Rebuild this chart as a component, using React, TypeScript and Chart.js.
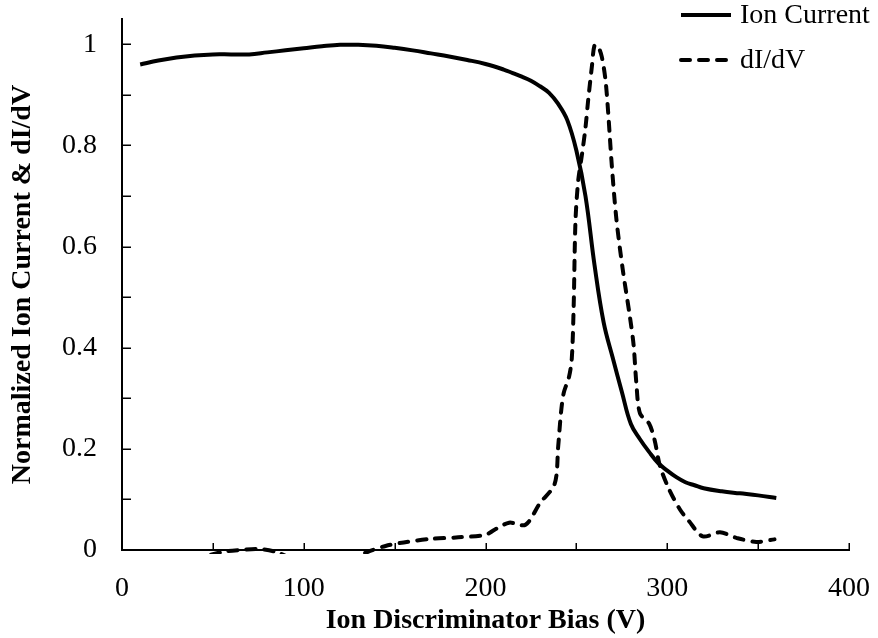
import React, { useEffect, useRef } from 'react';
import { Chart, registerables } from 'chart.js';

Chart.register(...registerables);

// ---- data ----
const ionBias = [10, 20, 30, 40, 50, 60, 70, 80, 90, 100, 110, 120, 130, 140, 150, 160, 170, 180, 190, 200, 210, 215, 220, 225, 230, 235, 240, 245, 250, 255, 260, 265, 270, 275, 280, 285, 290, 295, 300, 305, 310, 315, 320, 330, 340, 350, 360];
const ionCurrent = [0.960, 0.968, 0.974, 0.978, 0.980, 0.980, 0.980, 0.984, 0.988, 0.992, 0.996, 0.999, 0.999, 0.997, 0.993, 0.988, 0.982, 0.976, 0.969, 0.961, 0.950, 0.943, 0.936, 0.928, 0.917, 0.904, 0.882, 0.850, 0.790, 0.700, 0.563, 0.450, 0.380, 0.313, 0.249, 0.219, 0.194, 0.172, 0.157, 0.144, 0.134, 0.128, 0.122, 0.116, 0.112, 0.108, 0.103];

const didvBias = [10, 25, 40, 55, 65, 75, 85, 95, 110, 125, 135, 145, 155, 170, 185, 200, 205, 213, 222, 230, 238, 240, 241.5, 243, 246, 247.5, 248.5, 249.5, 251, 253, 255, 256.5, 258.5, 260, 262, 264, 266, 267.5, 269.5, 272, 275.5, 279.5, 281.5, 283, 285, 290, 293, 296, 301, 307, 312, 319.5, 329, 338, 349, 359];
const didv = [-0.03, -0.03, -0.018, -0.004, 0.0, 0.002, -0.004, -0.02, -0.04, -0.02, -0.004, 0.008, 0.015, 0.022, 0.025, 0.030, 0.040, 0.054, 0.050, 0.093, 0.130, 0.205, 0.270, 0.310, 0.343, 0.380, 0.480, 0.650, 0.730, 0.780, 0.835, 0.890, 0.955, 0.998, 0.995, 0.975, 0.930, 0.865, 0.760, 0.655, 0.555, 0.460, 0.405, 0.330, 0.270, 0.250, 0.218, 0.166, 0.120, 0.080, 0.057, 0.027, 0.035, 0.024, 0.016, 0.021];

const seriesLabels = ['Ion Current', 'dI/dV'];
const xTickValues = [0, 50, 100, 150, 200, 250, 300, 350, 400];
const xTickLabels = ['0', '', '100', '', '200', '', '300', '', '400'];
const yTickValues = [0, 0.1, 0.2, 0.3, 0.4, 0.5, 0.6, 0.7, 0.8, 0.9, 1.0];
const yTickLabels = ['0', '', '0.2', '', '0.4', '', '0.6', '', '0.8', '', '1'];
const xTitle = 'Ion Discriminator Bias (V)';
const yTitle = 'Normalized Ion Current & dI/dV';

const FONT = "'Liberation Serif', 'Times New Roman', serif";
const FS = 28;

const insideTicks = {
  id: 'insideTicks',
  afterDraw(chart: any) {
    const { ctx, chartArea, scales } = chart;
    const x = scales.x;
    const y = scales.y;
    ctx.save();
    ctx.strokeStyle = '#000';
    ctx.lineWidth = 1.5;
    x.ticks.forEach((t: any) => {
      const px = Math.round(x.getPixelForValue(t.value)) + 0.25;
      ctx.beginPath();
      ctx.moveTo(px, chartArea.bottom);
      ctx.lineTo(px, chartArea.bottom - 7);
      ctx.stroke();
    });
    y.ticks.forEach((t: any) => {
      const py = Math.round(y.getPixelForValue(t.value)) + 0.25;
      ctx.beginPath();
      ctx.moveTo(chartArea.left, py);
      ctx.lineTo(chartArea.left + 9, py);
      ctx.stroke();
    });
    ctx.restore();
  },
};

const customLegend = {
  id: 'customLegend',
  afterDraw(chart: any) {
    const { ctx } = chart;
    const rows = [15, 60];
    ctx.save();
    chart.data.datasets.forEach((ds: any, i: number) => {
      const yy = rows[i];
      ctx.strokeStyle = ds.borderColor;
      ctx.lineWidth = ds.borderWidth;
      ctx.lineCap = ds.borderCapStyle || 'butt';
      ctx.setLineDash(ds.borderDash || []);
      ctx.beginPath();
      ctx.moveTo(681, yy);
      ctx.lineTo(731, yy);
      ctx.stroke();
      ctx.setLineDash([]);
      ctx.fillStyle = '#000';
      ctx.font = `${FS}px ${FONT}`;
      ctx.textBaseline = 'middle';
      ctx.textAlign = 'left';
      ctx.fillText(ds.label, 740, yy + 1);
    });
    ctx.restore();
  },
};

const zeroPadding = (scale: any) => {
  scale.paddingTop = 0;
  scale.paddingBottom = 0;
  scale.paddingLeft = 0;
  scale.paddingRight = 0;
};

export default function App() {
  const canvasRef = useRef<HTMLCanvasElement | null>(null);

  useEffect(() => {
    document.body.style.margin = '0';
    const canvas = canvasRef.current;
    if (!canvas) return;
    Chart.defaults.font.family = FONT;
    const chart = new Chart(canvas, {
      type: 'line',
      data: {
        datasets: [
          {
            label: seriesLabels[0],
            data: ionBias.map((b, i) => ({ x: b, y: ionCurrent[i] })),
            borderColor: '#000',
            borderWidth: 4,
            pointRadius: 0,
            tension: 0.4,
            fill: false,
            borderCapStyle: 'butt',
            clip: { left: 5, right: 5, top: 5, bottom: 4 },
          },
          {
            label: seriesLabels[1],
            data: didvBias.map((b, i) => ({ x: b, y: didv[i] })),
            borderColor: '#000',
            borderWidth: 4,
            borderDash: [9, 9],
            borderCapStyle: 'round',
            pointRadius: 0,
            tension: 0.3,
            fill: false,
            clip: { left: 5, right: 5, top: 5, bottom: 4 },
          },
        ],
      } as any,
      options: {
        animation: false,
        responsive: false,
        maintainAspectRatio: false,
        layout: { padding: { left: 0, right: 29, top: 19, bottom: 0 } },
        plugins: { legend: { display: false }, tooltip: { enabled: false } },
        scales: {
          x: {
            type: 'linear',
            position: 'bottom',
            min: 0,
            max: 400,
            afterBuildTicks: (scale: any) => {
              scale.ticks = xTickValues.map((v) => ({ value: v }));
            },
            afterFit: (scale: any) => {
              scale.height = 88;
              zeroPadding(scale);
            },
            grid: { display: false, drawTicks: false },
            border: { display: true, color: '#000', width: 2 },
            ticks: {
              autoSkip: false,
              maxRotation: 0,
              padding: 22,
              color: '#000',
              font: { family: FONT, size: FS },
              callback: (_v: any, i: number) => xTickLabels[i],
            },
            title: {
              display: true,
              text: xTitle,
              color: '#000',
              font: { family: FONT, size: FS, weight: 'bold' },
              padding: { top: 0, bottom: 0 },
            },
          },
          y: {
            type: 'linear',
            position: 'left',
            min: 0,
            max: 1.05,
            afterBuildTicks: (scale: any) => {
              scale.ticks = yTickValues.map((v) => ({ value: v }));
            },
            afterFit: (scale: any) => {
              scale.width = 122;
              zeroPadding(scale);
            },
            grid: { display: false, drawTicks: false },
            border: { display: true, color: '#000', width: 2 },
            ticks: {
              autoSkip: false,
              padding: 25,
              color: '#000',
              font: { family: FONT, size: FS },
              callback: (_v: any, i: number) => yTickLabels[i],
            },
            title: {
              display: true,
              text: yTitle,
              color: '#000',
              font: { family: FONT, size: FS, weight: 'bold' },
              padding: { top: 6, bottom: 0 },
            },
          },
        },
      } as any,
      plugins: [insideTicks, customLegend],
    });
    return () => chart.destroy();
  }, []);

  return (
    <div style={{ width: 878, height: 638, background: '#fff' }}>
      <canvas ref={canvasRef} width={878} height={638} style={{ width: 878, height: 638, display: 'block' }} />
    </div>
  );
}
